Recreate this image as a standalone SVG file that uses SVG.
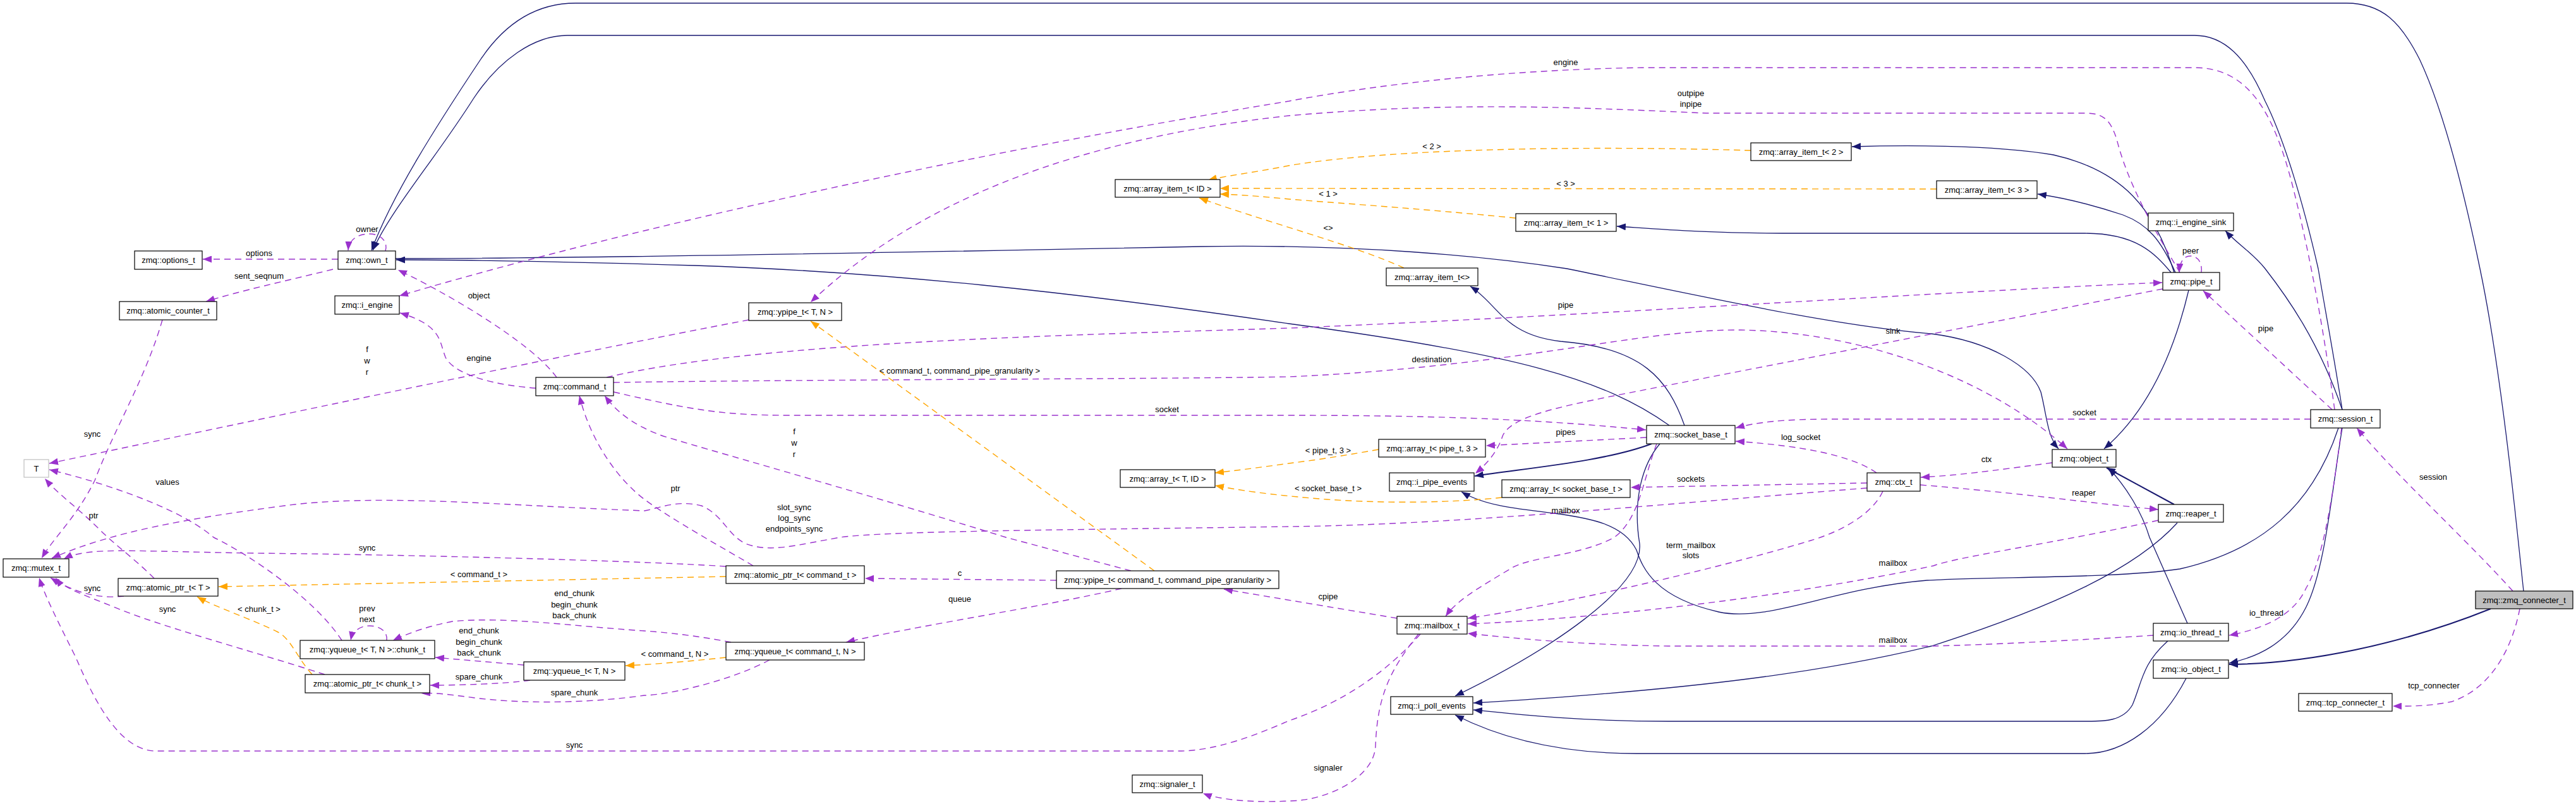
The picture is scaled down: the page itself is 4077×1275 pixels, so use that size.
<svg xmlns="http://www.w3.org/2000/svg" width="4077" height="1275" viewBox="0 0 4077 1275">
<defs>
<style>
.node rect{fill:#fff;stroke:#000;stroke-width:1.2}
.node text,.lbl{font-family:"Liberation Sans",Arial,sans-serif;font-size:13px;fill:#000;text-anchor:middle}
.inh{fill:none;stroke:#191970;stroke-width:1.3;marker-end:url(#an)}
.thk{stroke-width:2}
.use{fill:none;stroke:#9a32cd;stroke-width:1.4;stroke-dasharray:10,7;marker-end:url(#ap)}
.tpl{fill:none;stroke:#ffa500;stroke-width:1.4;stroke-dasharray:10,7;marker-end:url(#ao)}
</style>
<marker id="an" markerWidth="14" markerHeight="11" refX="14" refY="5.5" orient="auto" markerUnits="userSpaceOnUse"><path d="M0,0 L14,5.5 L0,11 z" fill="#191970"/></marker>
<marker id="ap" markerWidth="14" markerHeight="11" refX="14" refY="5.5" orient="auto" markerUnits="userSpaceOnUse"><path d="M0,0 L14,5.5 L0,11 z" fill="#9a32cd"/></marker>
<marker id="ao" markerWidth="14" markerHeight="11" refX="14" refY="5.5" orient="auto" markerUnits="userSpaceOnUse"><path d="M0,0 L14,5.5 L0,11 z" fill="#ffa500"/></marker>
</defs>
<rect x="0" y="0" width="4077" height="1275" fill="#fff"/>
<g id="connectors">
<path class="inh" d="M3994,935 L3985,850 C3965,660 3945,520 3925,425 C3895,280 3865,170 3830,95 C3800,35 3770,5 3714,5 L911,5 C850,5 800,35 760,95 C690,200 620,310 588,396"/>
<path class="inh" d="M3707,648 C3695,570 3680,490 3669,425 C3645,320 3615,220 3585,160 C3555,90 3520,56 3473,56 L898,56 C845,56 790,95 750,155 C690,250 620,330 590,396"/>
<path class="inh" d="M626,409 C900,409 1500,398 1900,390 C2150,386 2350,405 2480,425 C2700,470 2900,515 3057,528 C3150,540 3215,580 3230,620 C3240,660 3240,690 3258,710"/>
<path class="inh" d="M2642,673 C2540,600 2400,560 2040,512 C1700,462 1400,430 1100,420 C900,414 720,411 627,411"/>
<path class="inh" d="M2666,673 C2640,600 2600,550 2470,540 C2380,530 2370,480 2327,453"/>
<path class="inh thk" d="M2614,702 C2540,730 2420,740 2334,753"/>
<path class="inh" d="M2627,702 C2595,740 2585,800 2595,860 C2602,930 2450,1030 2303,1101"/>
<path class="inh" d="M3701,677 C3660,800 3580,870 3450,900 C3350,915 3150,912 3050,918 C2900,930 2800,985 2720,968 C2620,945 2600,900 2590,870 C2570,830 2520,820 2460,812 C2400,805 2350,800 2313,778"/>
<path class="inh" d="M3446,827 C3380,900 3250,960 3057,1022 C2900,1060 2700,1090 2332,1112"/>
<path class="inh" d="M3431,1014 C3390,1050 3390,1080 3375,1115 C3360,1141 3330,1141 3304,1141 L2640,1141 C2500,1141 2400,1130 2332,1123"/>
<path class="inh" d="M3460,1073 C3420,1150 3360,1192 3300,1192 L2590,1192 C2450,1192 2360,1160 2303,1131"/>
<path class="inh" d="M3441,431 C3410,330 3360,270 3250,245 C3150,228 3000,230 2931,232"/>
<path class="inh" d="M3443,431 C3420,380 3400,355 3360,340 C3300,320 3260,312 3225,307"/>
<path class="inh" d="M3436,431 C3410,400 3380,369 3300,369 L2820,369 C2700,369 2620,362 2559,358"/>
<path class="inh" d="M3464,459 C3440,560 3400,650 3330,710"/>
<path class="inh" d="M3707,648 C3670,540 3620,470 3585,425 C3565,400 3540,385 3522,365"/>
<path class="inh" d="M3707,677 C3690,780 3680,900 3650,960 C3620,1020 3570,1040 3528,1049"/>
<path class="inh thk" d="M3942,963 C3800,1020 3650,1050 3528,1051"/>
<path class="inh" d="M3462,986 L3402,850 C3390,810 3365,770 3337,740"/>
<path class="inh thk" d="M3441,798 L3334,740"/>

<path class="use" d="M535,410 L321,410"/>
<path class="use" d="M610,397 C615,380 600,370 585,370 C565,370 552,380 551,396"/>
<path class="use" d="M527,426 C450,445 380,460 326,477"/>
<path class="use" d="M881,597 C840,540 700,460 630,427"/>
<path class="use" d="M848,614 C790,610 720,595 705,565 C695,540 700,515 633,495"/>
<path class="use" d="M3695,648 C3680,540 3660,420 3630,300 C3600,180 3560,107 3473,107 L2600,107 C2400,110 2200,130 2040,160 C1700,215 1100,330 632,468"/>
<path class="use" d="M3450,431 C3420,380 3370,300 3350,220 C3340,190 3330,179 3300,179 L2700,179 C2500,170 2300,160 2040,183 C1700,220 1450,320 1283,478"/>
<path class="use" d="M960,597 C1200,540 1700,530 2040,519 C2500,500 3100,460 3422,447"/>
<path class="use" d="M971,605 C1300,600 1800,600 2040,596 C2400,580 2600,520 2755,522 C2950,525 3150,600 3272,710"/>
<path class="use" d="M971,620 C1100,650 1150,657 1250,657 L2040,657 C2300,657 2450,665 2605,680"/>
<path class="use" d="M3657,663 L2900,663 C2820,663 2780,668 2747,677"/>
<path class="use" d="M1790,903 L1592,850 C1400,790 1150,720 1050,690 C1000,672 975,650 957,626"/>
<path class="use" d="M1192,895 C1150,870 1060,820 1020,790 C980,760 935,700 917,626"/>
<path class="use" d="M1185,506 C900,560 500,645 78,733"/>
<path class="use" d="M257,506 C230,600 180,680 150,760 C120,820 85,850 66,883"/>
<path class="use" d="M541,1013 C500,950 400,880 338,850 C280,800 150,760 78,743"/>
<path class="use" d="M244,915 C220,890 180,860 160,840 C120,800 95,785 71,757"/>
<path class="use" d="M2955,772 C2600,800 2300,830 2040,833 C1700,838 1400,840 1330,850 C1260,862 1220,875 1180,860 C1150,845 1145,815 1110,800 C1070,790 1040,805 1020,808 C800,800 600,780 450,800 C300,820 180,840 82,883"/>
<path class="use" d="M1149,896 C1050,889 700,878 400,875 C200,872 140,865 101,884"/>
<path class="use" d="M196,943 C170,946 130,945 80,914"/>
<path class="use" d="M514,1067 C400,1030 250,990 180,960 C130,940 100,930 88,914"/>
<path class="use" d="M2248,1003 C2180,1080 2100,1120 2040,1140 C1950,1180 1900,1188 1866,1188 L247,1188 C190,1188 150,1110 120,1040 C90,980 70,940 62,914"/>
<path class="use" d="M2211,978 L1937,932"/>
<path class="use" d="M2245,1003 C2200,1060 2180,1100 2177,1180 C2175,1230 2100,1267 2040,1267 C1980,1270 1930,1265 1904,1255"/>
<path class="use" d="M2622,702 C2600,760 2595,820 2555,850 C2500,880 2420,880 2390,900 C2340,930 2305,950 2288,975"/>
<path class="use" d="M2980,777 C2960,820 2900,845 2866,855 C2700,905 2450,960 2323,978"/>
<path class="use" d="M3416,823 C3250,860 3100,880 3060,895 C2800,950 2500,980 2323,987"/>
<path class="use" d="M3408,1005 C3300,1012 3150,1020 3057,1022 L2640,1022 C2500,1020 2400,1010 2323,1002"/>
<path class="use" d="M3484,431 C3486,415 3478,405 3467,405 C3455,405 3450,415 3449,431"/>
<path class="use" d="M3423,457 L2560,625 C2460,645 2390,660 2378,690 C2370,715 2352,735 2335,749"/>
<path class="use" d="M3691,648 L3487,460"/>
<path class="use" d="M3248,732 C3150,745 3100,752 3040,755"/>
<path class="use" d="M3039,767 C3200,780 3300,795 3416,806"/>
<path class="use" d="M2970,748 C2930,720 2850,705 2747,698"/>
<path class="use" d="M2955,764 L2581,771"/>
<path class="use" d="M2606,692 L2352,705"/>
<path class="use" d="M3706,677 C3695,760 3680,880 3650,930 C3630,975 3580,995 3528,1005"/>
<path class="use" d="M3977,935 C3900,850 3800,760 3730,677"/>
<path class="use" d="M3988,963 C3975,1030 3940,1090 3880,1110 C3840,1118 3810,1117 3787,1117"/>
<path class="use" d="M1672,918 L1369,915"/>
<path class="use" d="M1775,931 C1650,960 1450,990 1339,1016"/>
<path class="use" d="M829,1052 L689,1040"/>
<path class="use" d="M839,1076 C800,1082 720,1084 681,1084"/>
<path class="use" d="M1157,1016 C1100,1005 1050,1000 1020,998 C900,990 800,975 716,983 C680,990 650,1000 622,1013"/>
<path class="use" d="M1218,1044 C1150,1080 1050,1100 1020,1100 C950,1110 850,1115 760,1105 C720,1100 690,1095 667,1097"/>
<path class="use" d="M612,1013 C614,998 600,990 585,990 C570,990 558,998 555,1013"/>

<path class="tpl" d="M2771,238 C2500,230 2200,235 2040,262 C1990,272 1940,278 1912,285"/>
<path class="tpl" d="M3065,299 L1931,298"/>
<path class="tpl" d="M2399,345 C2250,330 2100,320 2040,315 C1990,310 1960,308 1931,307"/>
<path class="tpl" d="M2222,424 C2150,390 2000,350 1898,313"/>
<path class="tpl" d="M1827,903 L1283,508"/>
<path class="tpl" d="M2182,711 C2120,722 2080,728 2040,733 C1990,740 1950,745 1923,748"/>
<path class="tpl" d="M2377,787 C2300,795 2200,797 2100,790 C2000,782 1960,775 1923,768"/>
<path class="tpl" d="M1149,912 L346,928"/>
<path class="tpl" d="M494,1067 C470,1040 460,1010 440,1000 C400,980 340,960 312,944"/>
<path class="tpl" d="M1149,1040 C1100,1045 1050,1050 990,1053"/>

<text class="lbl" x="581" y="367">owner</text>
<text class="lbl" x="410" y="405">options</text>
<text class="lbl" x="410" y="441">sent_seqnum</text>
<text class="lbl" x="758" y="472">object</text>
<text class="lbl" x="758" y="571">engine</text>
<text class="lbl" x="581" y="557">f</text>
<text class="lbl" x="581" y="575">w</text>
<text class="lbl" x="581" y="593">r</text>
<text class="lbl" x="146" y="691">sync</text>
<text class="lbl" x="265" y="767">values</text>
<text class="lbl" x="148" y="820">ptr</text>
<text class="lbl" x="2478" y="103">engine</text>
<text class="lbl" x="2676" y="152">outpipe</text>
<text class="lbl" x="2676" y="169">inpipe</text>
<text class="lbl" x="2266" y="236">&lt; 2 &gt;</text>
<text class="lbl" x="2478" y="295">&lt; 3 &gt;</text>
<text class="lbl" x="2102" y="311">&lt; 1 &gt;</text>
<text class="lbl" x="2102" y="365">&lt;&gt;</text>
<text class="lbl" x="3467" y="401">peer</text>
<text class="lbl" x="2478" y="487">pipe</text>
<text class="lbl" x="2996" y="528">sink</text>
<text class="lbl" x="2266" y="573">destination</text>
<text class="lbl" x="1519" y="591">&lt; command_t, command_pipe_granularity &gt;</text>
<text class="lbl" x="1847" y="652">socket</text>
<text class="lbl" x="1257" y="687">f</text>
<text class="lbl" x="1257" y="705">w</text>
<text class="lbl" x="1257" y="723">r</text>
<text class="lbl" x="2478" y="688">pipes</text>
<text class="lbl" x="2850" y="696">log_socket</text>
<text class="lbl" x="2102" y="717">&lt; pipe_t, 3 &gt;</text>
<text class="lbl" x="2676" y="762">sockets</text>
<text class="lbl" x="2102" y="777">&lt; socket_base_t &gt;</text>
<text class="lbl" x="1069" y="777">ptr</text>
<text class="lbl" x="1257" y="807">slot_sync</text>
<text class="lbl" x="1257" y="824">log_sync</text>
<text class="lbl" x="1257" y="841">endpoints_sync</text>
<text class="lbl" x="2478" y="812">mailbox</text>
<text class="lbl" x="3586" y="524">pipe</text>
<text class="lbl" x="3299" y="657">socket</text>
<text class="lbl" x="3144" y="731">ctx</text>
<text class="lbl" x="3298" y="784">reaper</text>
<text class="lbl" x="3851" y="759">session</text>
<text class="lbl" x="581" y="871">sync</text>
<text class="lbl" x="758" y="913">&lt; command_t &gt;</text>
<text class="lbl" x="909" y="943">end_chunk</text>
<text class="lbl" x="909" y="961">begin_chunk</text>
<text class="lbl" x="909" y="978">back_chunk</text>
<text class="lbl" x="581" y="967">prev</text>
<text class="lbl" x="581" y="984">next</text>
<text class="lbl" x="758" y="1002">end_chunk</text>
<text class="lbl" x="758" y="1020">begin_chunk</text>
<text class="lbl" x="758" y="1037">back_chunk</text>
<text class="lbl" x="758" y="1075">spare_chunk</text>
<text class="lbl" x="909" y="1100">spare_chunk</text>
<text class="lbl" x="909" y="1183">sync</text>
<text class="lbl" x="146" y="935">sync</text>
<text class="lbl" x="265" y="968">sync</text>
<text class="lbl" x="410" y="968">&lt; chunk_t &gt;</text>
<text class="lbl" x="1068" y="1039">&lt; command_t, N &gt;</text>
<text class="lbl" x="1519" y="911">c</text>
<text class="lbl" x="1519" y="952">queue</text>
<text class="lbl" x="2676" y="867">term_mailbox</text>
<text class="lbl" x="2676" y="883">slots</text>
<text class="lbl" x="2996" y="895">mailbox</text>
<text class="lbl" x="2996" y="1017">mailbox</text>
<text class="lbl" x="2102" y="948">cpipe</text>
<text class="lbl" x="2102" y="1219">signaler</text>
<text class="lbl" x="3587" y="974">io_thread</text>
<text class="lbl" x="3852" y="1089">tcp_connecter</text>
</g>

<g id="n_options_t" class="node"><rect x="213" y="397" width="107" height="29"/><text x="266.5" y="416">zmq::options_t</text></g>
<g id="n_own_t" class="node"><rect x="535" y="397" width="91" height="29"/><text x="580.5" y="416">zmq::own_t</text></g>
<g id="n_atomic_counter_t" class="node"><rect x="189" y="477" width="154" height="29"/><text x="266" y="496">zmq::atomic_counter_t</text></g>
<g id="n_i_engine" class="node"><rect x="530" y="468" width="102" height="29"/><text x="581" y="487">zmq::i_engine</text></g>
<g id="n_command_t" class="node"><rect x="848" y="597" width="123" height="29"/><text x="909.5" y="616">zmq::command_t</text></g>
<g id="n_T" class="node"><rect x="38" y="727" width="39" height="28" style="stroke:#bfbfbf"/><text x="57.5" y="745.5">T</text></g>
<g id="n_mutex_t" class="node"><rect x="5" y="884" width="104" height="29"/><text x="57" y="903">zmq::mutex_t</text></g>
<g id="n_atomic_ptr_T" class="node"><rect x="187" y="915" width="158" height="28"/><text x="266" y="933.5">zmq::atomic_ptr_t&lt; T &gt;</text></g>
<g id="n_chunk_t" class="node"><rect x="475" y="1013" width="213" height="29"/><text x="581.5" y="1032">zmq::yqueue_t&lt; T, N &gt;::chunk_t</text></g>
<g id="n_atomic_ptr_chunk" class="node"><rect x="483" y="1067" width="197" height="29"/><text x="581.5" y="1086">zmq::atomic_ptr_t&lt; chunk_t &gt;</text></g>
<g id="n_yqueue_TN" class="node"><rect x="829" y="1047" width="160" height="29"/><text x="909" y="1066">zmq::yqueue_t&lt; T, N &gt;</text></g>
<g id="n_atomic_ptr_command" class="node"><rect x="1149" y="895" width="219" height="28"/><text x="1258.5" y="913.5">zmq::atomic_ptr_t&lt; command_t &gt;</text></g>
<g id="n_yqueue_command" class="node"><rect x="1149" y="1016" width="219" height="28"/><text x="1258.5" y="1034.5">zmq::yqueue_t&lt; command_t, N &gt;</text></g>
<g id="n_ypipe_TN" class="node"><rect x="1185" y="479" width="147" height="28"/><text x="1258.5" y="497.5">zmq::ypipe_t&lt; T, N &gt;</text></g>
<g id="n_ypipe_command" class="node"><rect x="1672" y="903" width="352" height="28"/><text x="1848" y="921.5">zmq::ypipe_t&lt; command_t, command_pipe_granularity &gt;</text></g>
<g id="n_signaler_t" class="node"><rect x="1792" y="1226" width="111" height="28"/><text x="1847.5" y="1244.5">zmq::signaler_t</text></g>
<g id="n_array_item_ID" class="node"><rect x="1765" y="284" width="166" height="28"/><text x="1848" y="302.5">zmq::array_item_t&lt; ID &gt;</text></g>
<g id="n_array_t_TID" class="node"><rect x="1773" y="743" width="150" height="28"/><text x="1848" y="761.5">zmq::array_t&lt; T, ID &gt;</text></g>
<g id="n_array_item_empty" class="node"><rect x="2194" y="424" width="145" height="28"/><text x="2266.5" y="442.5">zmq::array_item_t&lt;&gt;</text></g>
<g id="n_array_item_1" class="node"><rect x="2399" y="338" width="159" height="28"/><text x="2478.5" y="356.5">zmq::array_item_t&lt; 1 &gt;</text></g>
<g id="n_array_item_2" class="node"><rect x="2771" y="226" width="159" height="28"/><text x="2850.5" y="244.5">zmq::array_item_t&lt; 2 &gt;</text></g>
<g id="n_array_item_3" class="node"><rect x="3065" y="286" width="159" height="28"/><text x="3144.5" y="304.5">zmq::array_item_t&lt; 3 &gt;</text></g>
<g id="n_array_t_pipe" class="node"><rect x="2182" y="695" width="169" height="28"/><text x="2266.5" y="713.5">zmq::array_t&lt; pipe_t, 3 &gt;</text></g>
<g id="n_i_pipe_events" class="node"><rect x="2199" y="748" width="134" height="29"/><text x="2266" y="767">zmq::i_pipe_events</text></g>
<g id="n_array_t_socket" class="node"><rect x="2377" y="759" width="203" height="28"/><text x="2478.5" y="777.5">zmq::array_t&lt; socket_base_t &gt;</text></g>
<g id="n_socket_base_t" class="node"><rect x="2606" y="673" width="140" height="29"/><text x="2676" y="692">zmq::socket_base_t</text></g>
<g id="n_ctx_t" class="node"><rect x="2955" y="748" width="84" height="29"/><text x="2997" y="767">zmq::ctx_t</text></g>
<g id="n_mailbox_t" class="node"><rect x="2211" y="975" width="111" height="28"/><text x="2266.5" y="993.5">zmq::mailbox_t</text></g>
<g id="n_i_poll_events" class="node"><rect x="2201" y="1102" width="130" height="28"/><text x="2266" y="1120.5">zmq::i_poll_events</text></g>
<g id="n_i_engine_sink" class="node"><rect x="3400" y="337" width="135" height="28"/><text x="3467.5" y="355.5">zmq::i_engine_sink</text></g>
<g id="n_pipe_t" class="node"><rect x="3423" y="431" width="90" height="28"/><text x="3468" y="449.5">zmq::pipe_t</text></g>
<g id="n_object_t" class="node"><rect x="3248" y="711" width="101" height="28"/><text x="3298.5" y="729.5">zmq::object_t</text></g>
<g id="n_session_t" class="node"><rect x="3657" y="648" width="110" height="29"/><text x="3712" y="667">zmq::session_t</text></g>
<g id="n_reaper_t" class="node"><rect x="3416" y="798" width="103" height="28"/><text x="3467.5" y="816.5">zmq::reaper_t</text></g>
<g id="n_io_thread_t" class="node"><rect x="3408" y="986" width="119" height="28"/><text x="3467.5" y="1004.5">zmq::io_thread_t</text></g>
<g id="n_io_object_t" class="node"><rect x="3408" y="1044" width="119" height="29"/><text x="3467.5" y="1063">zmq::io_object_t</text></g>
<g id="n_zmq_connecter_t" class="node"><rect x="3918" y="935" width="154" height="28" style="fill:#bfbfbf"/><text x="3995" y="953.5">zmq::zmq_connecter_t</text></g>
<g id="n_tcp_connecter_t" class="node"><rect x="3638" y="1097" width="148" height="28"/><text x="3712" y="1115.5">zmq::tcp_connecter_t</text></g>
</svg>
